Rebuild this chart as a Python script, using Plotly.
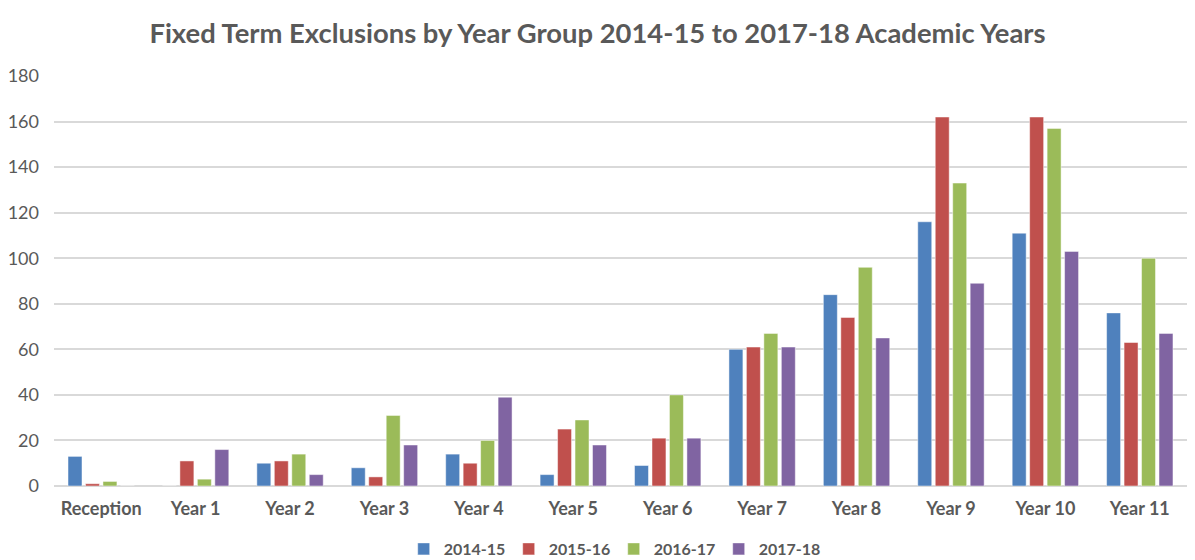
import plotly.graph_objects as go

categories = ["Reception", "Year 1", "Year 2", "Year 3", "Year 4", "Year 5",
              "Year 6", "Year 7", "Year 8", "Year 9", "Year 10", "Year 11"]
s2014_15 = [13, 0, 10, 8, 14, 5, 9, 60, 84, 116, 111, 76]
s2015_16 = [1, 11, 11, 4, 10, 25, 21, 61, 74, 162, 162, 63]
s2016_17 = [2, 3, 14, 31, 20, 29, 40, 67, 96, 133, 157, 100]
s2017_18 = [0, 16, 5, 18, 39, 18, 21, 61, 65, 89, 103, 67]
series_names = ["2014-15", "2015-16", "2016-17", "2017-18"]
colors = ["#4F81BD", "#C0504D", "#9BBB59", "#8064A2"]
y_ticks = [0, 20, 40, 60, 80, 100, 120, 140, 160, 180]

FONT = "Lato, 'Open Sans', 'Liberation Sans', sans-serif"
GRAY = "#595959"

fig = go.Figure()
for name, vals, col in zip(series_names, [s2014_15, s2015_16, s2016_17, s2017_18], colors):
    fig.add_trace(go.Bar(
        x=categories, y=vals, name="<b>" + name + "</b>",
        marker=dict(color=col, line=dict(color="rgba(255,255,255,0.6)", width=0.8)),
    ))

fig.update_layout(
    width=1195, height=560,
    paper_bgcolor="white", plot_bgcolor="white",
    margin=dict(l=51, r=8, t=76, b=74),
    barmode="group", bargap=0.26, bargroupgap=0.2,
    font=dict(family=FONT, color=GRAY),
    title=dict(
        text="<b>Fixed Term Exclusions by Year Group 2014-15 to 2017-18 Academic Years</b>",
        x=0.5, xanchor="center", y=(560 - 33) / 560, yanchor="middle",
        font=dict(size=27.4, color=GRAY, family=FONT),
    ),
    legend=dict(
        orientation="h", x=0.494, xanchor="center",
        yref="container", y=(560 - 549) / 560, yanchor="middle",
        font=dict(size=16, color=GRAY, family=FONT),
        traceorder="normal", entrywidth=60, entrywidthmode="pixels",
    ),
    xaxis=dict(
        showgrid=False, showline=False, ticks="",
        tickfont=dict(size=18, color=GRAY, family=FONT),
        tickprefix="<b>", ticksuffix="</b>", ticklabelstandoff=10,
    ),
    yaxis=dict(
        range=[0, 180], tickvals=y_ticks,
        showgrid=True, gridcolor="#D9D9D9", gridwidth=1.5,
        zeroline=True, zerolinecolor="#D9D9D9", zerolinewidth=1.5,
        showline=False, ticks="", ticklabelstandoff=14,
        tickfont=dict(size=18, color=GRAY, family=FONT),
        tickprefix="<b>", ticksuffix="</b>",
    ),
)

fig.write_html("out.html")
